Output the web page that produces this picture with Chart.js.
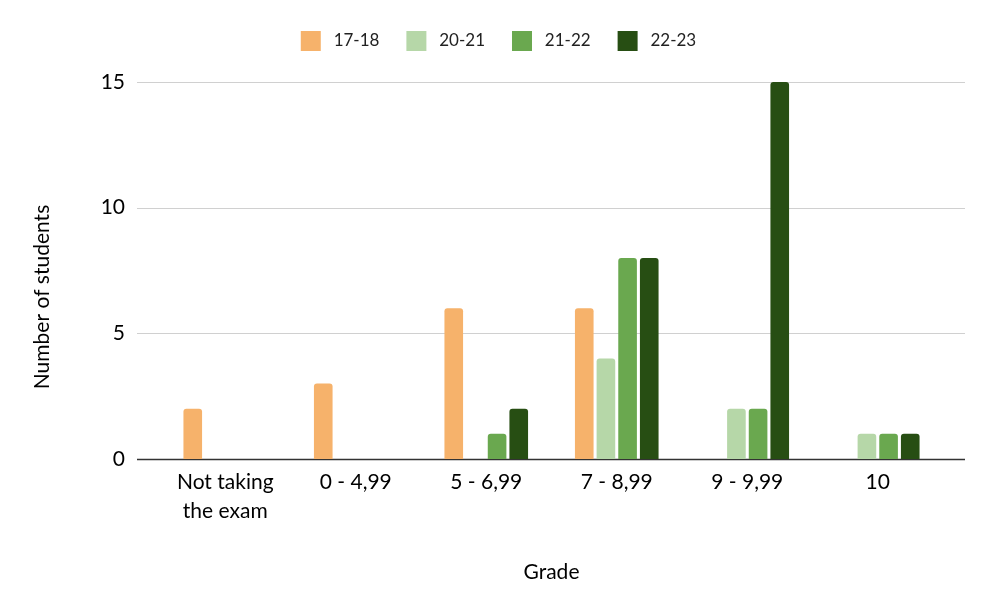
<!DOCTYPE html>
<html>
<head>
<meta charset="utf-8">
<script src="https://cdn.jsdelivr.net/npm/chart.js@4"></script>
<style>
  html, body { margin: 0; padding: 0; background: #fff; }
  #wrap { width: 997px; height: 616px; }
</style>
</head>
<body>
<div id="wrap"><canvas id="grades-chart" width="997" height="616"></canvas></div>
<script>
const grades = [['Not taking', 'the exam'], '0 - 4,99', '5 - 6,99', '7 - 8,99', '9 - 9,99', '10'];
const seriesNames = ['17-18', '20-21', '21-22', '22-23'];
const year1718 = [2, 3, 6, 6, 0, 0];
const year2021 = [0, 0, 0, 4, 2, 1];
const year2122 = [0, 0, 1, 8, 2, 1];
const year2223 = [0, 0, 2, 8, 15, 1];
const yTicks = [0, 5, 10, 15];

const colors = ['#f6b26b', '#b6d7a8', '#6aa84f', '#274e13'];
const fontFamily = 'Lato, "Open Sans", sans-serif';

const layoutPlugin = {
    id: 'layoutTweaks',
    beforeUpdate(chart) {
        // leave more room between legend and plot
        const lg = chart.legend;
        if (lg && !lg._wrapped) {
            const fit = lg.fit;
            lg.fit = function () { fit.call(this); this.height += 25; };
            lg._wrapped = true;
        }
    },
    afterLayout(chart) {
        // center legend on the full canvas, not the padded area
        if (chart.legend) {
            chart.legend.left += 27;
            chart.legend.right += 27;
            chart.legend.top += 4;
            chart.legend.bottom += 4;
        }
    },
    // grid lines in the original run a bit past the first and last category
    beforeDatasetsDraw(chart) {
        const { ctx, chartArea, scales } = chart;
        ctx.save();
        yTicks.forEach(v => {
            const y = Math.round(scales.y.getPixelForValue(v)) + 0.5;
            ctx.beginPath();
            ctx.strokeStyle = v === 0 ? '#333333' : '#d0d0d0';
            ctx.lineWidth = v === 0 ? 1.5 : 1;
            ctx.moveTo(chartArea.left - 23, y);
            ctx.lineTo(chartArea.right + 22, y);
            ctx.stroke();
        });
        ctx.restore();
    }
};

const yTitlePlugin = {
    id: 'yTitle',
    afterDraw(chart) {
        const ctx = chart.ctx;
        ctx.save();
        ctx.translate(42, 297);
        ctx.rotate(-Math.PI / 2);
        ctx.font = '21px ' + fontFamily;
        ctx.fillStyle = '#000';
        ctx.textAlign = 'center';
        ctx.textBaseline = 'middle';
        ctx.fillText('Number of students', 0, 0);
        ctx.restore();
    }
};

const seriesData = [year1718, year2021, year2122, year2223];

new Chart(document.getElementById('grades-chart'), {
    type: 'bar',
    data: {
        labels: grades,
        datasets: seriesNames.map((name, i) => ({
            label: name,
            data: seriesData[i],
            backgroundColor: colors[i],
            borderWidth: 0,
            borderRadius: 3,
            categoryPercentage: 0.664,
            barPercentage: 0.86
        }))
    },
    options: {
        responsive: false,
        animation: false,
        layout: { padding: { top: 0, right: 54, bottom: 0, left: 0 } },
        plugins: {
            legend: {
                position: 'top',
                labels: {
                    boxWidth: 20,
                    boxHeight: 20,
                    padding: 27,
                    color: '#222',
                    font: { family: fontFamily, size: 17 },
                    generateLabels(chart) {
                        const items = Chart.defaults.plugins.legend.labels.generateLabels(chart);
                        items.forEach(it => { it.text = ' ' + it.text; });
                        return items;
                    }
                }
            },
            tooltip: { enabled: false }
        },
        scales: {
            x: {
                grid: { display: false, drawTicks: false },
                border: { display: false },
                ticks: {
                    color: '#000',
                    padding: 9,
                    font: { family: fontFamily, size: 21, lineHeight: 1.38 },
                    maxRotation: 0
                },
                title: {
                    display: true,
                    text: 'Grade',
                    color: '#000',
                    font: { family: fontFamily, size: 21 },
                    padding: { top: 0, bottom: 31 }
                },
                afterFit(scale) { scale.height = 157; }
            },
            y: {
                min: 0,
                max: 15,
                grid: { display: false, drawTicks: false },
                border: { display: false },
                ticks: {
                    stepSize: 5,
                    color: '#000',
                    padding: 35,
                    font: { family: fontFamily, size: 21 }
                },
                afterFit(scale) { scale.width = 160; }
            }
        }
    },
    plugins: [layoutPlugin, yTitlePlugin]
});
</script>
</body>
</html>
